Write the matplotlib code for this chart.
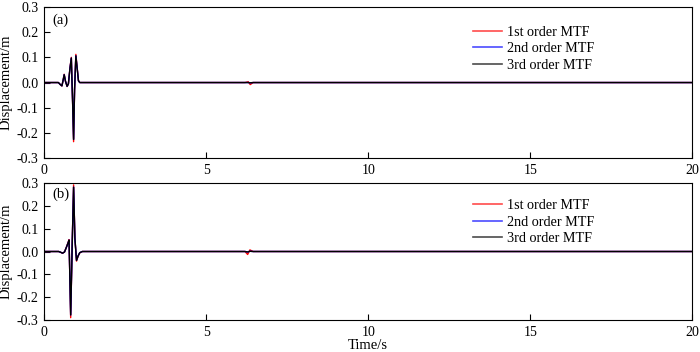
import matplotlib
matplotlib.use("Agg")
import matplotlib.pyplot as plt

plt.rcParams['font.family'] = ['Liberation Serif', 'DejaVu Serif']

# Panel (a) key points (time in s, displacement in m)
t_a = [0.0, 0.44, 0.50, 0.55, 0.59, 0.62, 0.66, 0.71, 0.75, 0.80, 0.84, 0.88,
       0.91, 0.94, 0.98, 1.02, 1.06, 1.10, 6.20, 6.30, 6.36, 6.45, 20.0]
a_first = [0.0, 0.0, -0.008, -0.014, 0.012, 0.033, 0.005, -0.016, -0.005, 0.060, 0.100, -0.080,
           -0.235, -0.030, 0.112, 0.060, 0.008, 0.0, 0.0, 0.003, -0.008, 0.0, 0.0]
a_second = [0.0, 0.0, -0.008, -0.013, 0.011, 0.031, 0.005, -0.015, -0.005, 0.058, 0.097, -0.078,
            -0.226, -0.028, 0.106, 0.057, 0.007, 0.0, 0.0, 0.0, -0.001, 0.0, 0.0]
a_third = [0.0, 0.0, -0.008, -0.013, 0.011, 0.031, 0.005, -0.015, -0.005, 0.058, 0.097, -0.078,
           -0.226, -0.028, 0.106, 0.057, 0.007, 0.0, 0.0, 0.0, -0.001, 0.0, 0.0]

# Panel (b) key points
t_b = [0.0, 0.45, 0.52, 0.57, 0.63, 0.69, 0.74, 0.77, 0.82, 0.87, 0.91, 0.95,
       1.00, 1.05, 1.10, 1.18, 6.20, 6.28, 6.35, 6.45, 20.0]
b_first = [0.0, 0.0, -0.004, -0.008, -0.002, 0.020, 0.040, 0.052, -0.290, 0.050, 0.292, 0.060,
           -0.042, -0.020, -0.006, 0.0, 0.0, -0.013, 0.007, 0.0, 0.0]
b_second = [0.0, 0.0, -0.004, -0.007, -0.002, 0.019, 0.038, 0.050, -0.278, 0.048, 0.282, 0.058,
            -0.039, -0.019, -0.005, 0.0, 0.0, -0.002, 0.001, 0.0, 0.0]
b_third = [0.0, 0.0, -0.004, -0.007, -0.002, 0.019, 0.038, 0.050, -0.278, 0.048, 0.282, 0.058,
           -0.039, -0.019, -0.005, 0.0, 0.0, -0.002, 0.001, 0.0, 0.0]

labels = ['1st order MTF', '2nd order MTF', '3rd order MTF']
colors = ['#ff0000', '#0000ff', '#000000']
x_ticks = [0, 5, 10, 15, 20]
y_ticks = [-0.3, -0.2, -0.1, 0.0, 0.1, 0.2, 0.3]

fig = plt.figure(figsize=(7.0, 3.52), dpi=100)
ax1 = fig.add_axes([0.063, 0.551, 0.926, 0.429])
ax2 = fig.add_axes([0.063, 0.091, 0.926, 0.389])

TICK_FS = 10
LAB_FS = 10.5
LEG_FS = 10.2
for ax, t, series, tag, leg_y in [(ax1, t_a, [a_first, a_second, a_third], '(a)', 0.877),
                                  (ax2, t_b, [b_first, b_second, b_third], '(b)', 0.883)]:
    for y, c, lab in zip(series, colors, labels):
        ax.plot(t, y, color=c, lw=1.0, label=lab)
    ax.set_xlim(0, 20)
    ax.set_ylim(-0.3, 0.3)
    ax.set_xticks(x_ticks)
    ax.set_xticklabels([str(v) for v in x_ticks], fontsize=TICK_FS)
    ax.set_yticks(y_ticks)
    ax.set_yticklabels(['%.1f' % v for v in y_ticks], fontsize=TICK_FS)
    ax.tick_params(direction='in', length=4, width=0.8, top=False, right=False, pad=4)
    ax.set_ylabel('Displacement/m', fontsize=LAB_FS, labelpad=3)
    ax.text(0.013, 0.915, tag, transform=ax.transAxes, fontsize=LAB_FS, va='center', ha='left')
    for s in ax.spines.values():
        s.set_linewidth(0.8)
    leg = ax.legend(loc='upper left', bbox_to_anchor=(0.662, leg_y), frameon=False,
                    fontsize=LEG_FS, handlelength=2.0, handletextpad=0.4, labelspacing=0.25,
                    borderaxespad=0.0, borderpad=0.0)
    for h in leg.get_lines():
        h.set_alpha(0.7)
        h.set_linewidth(1.2)

ax2.set_xlabel('Time/s', fontsize=LAB_FS, labelpad=0.5)

fig.savefig('out.png', dpi=100)
